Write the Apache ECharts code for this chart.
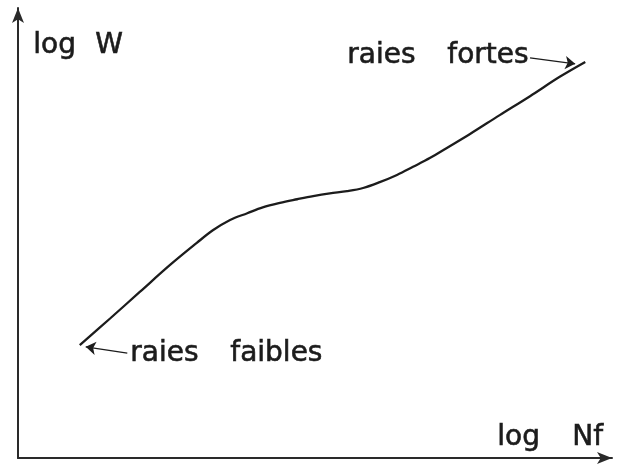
<!DOCTYPE html>
<html>
<head>
<meta charset="utf-8">
<script src="https://cdn.jsdelivr.net/npm/echarts@6/dist/echarts.min.js"></script>
<style>
  html, body { margin: 0; padding: 0; background: #fff; }
  #chart { width: 625px; height: 464px; }
</style>
</head>
<body>
<div id="chart"></div>
<script>
// courbe de croissance (unités arbitraires, 0-10 sur chaque axe)
const logNf = [1.04, 1.55, 2.05, 2.56, 3.01, 3.28, 3.57, 3.86, 4.12, 4.41, 4.70, 4.97, 5.25,
  5.54, 5.81, 6.09, 6.38, 6.65, 6.94, 7.22, 7.61, 8.11, 8.62, 9.12, 9.55];
const logW = [2.51, 3.10, 3.69, 4.29, 4.78, 5.06, 5.29, 5.44, 5.57, 5.67, 5.75, 5.82, 5.88,
  5.93, 6.00, 6.13, 6.29, 6.47, 6.67, 6.89, 7.20, 7.62, 8.04, 8.47, 8.80];

// flèches d'annotation : [queue, pointe]
const arrowFaibles = [[1.84, 2.33], [1.14, 2.47]];
const arrowFortes = [[8.62, 8.89], [9.38, 8.76]];

const curve = logNf.map((x, i) => [x, logW[i]]);

const font = '"DejaVu Sans", sans-serif';
const ink = "#1c1c1c";

function word(text, x, y) {
  return {
    type: "text",
    left: x,
    top: y,
    style: {
      text: text,
      fontSize: 28,
      fontFamily: font,
      fill: ink,
      stroke: ink,
      lineWidth: 0.6,
    },
  };
}

const axisBase = {
  type: "value",
  min: 0,
  max: 10,
  axisLine: {
    show: true,
    symbol: ["none", "arrow"],
    symbolSize: [9, 15],
    symbolOffset: [0, 0],
    lineStyle: { color: "#2a2a2a", width: 2 },
  },
  axisTick: { show: false },
  axisLabel: { show: false },
  splitLine: { show: false },
};

const chart = echarts.init(document.getElementById("chart"));
chart.setOption({
  animation: false,
  grid: { left: 18, right: 13, top: 8, bottom: 6 },
  xAxis: axisBase,
  yAxis: axisBase,
  series: [
    {
      type: "line",
      data: curve,
      smooth: 0.35,
      showSymbol: false,
      silent: true,
      lineStyle: { color: ink, width: 2.3 },
      markLine: {
        silent: true,
        symbol: ["none", "arrow"],
        symbolSize: 10,
        label: { show: false },
        lineStyle: { color: ink, width: 1.2, type: "solid" },
        data: [
          [{ coord: arrowFaibles[0] }, { coord: arrowFaibles[1] }],
          [{ coord: arrowFortes[0] }, { coord: arrowFortes[1] }],
        ],
      },
    },
  ],
  graphic: [
    word("log", 33, 31),
    word("W", 95, 31),
    word("raies", 347, 41),
    word("fortes", 447, 41),
    word("raies", 130, 339),
    word("faibles", 230, 339),
    word("log", 497, 423),
    word("Nf", 572, 423),
  ],
});
</script>
</body>
</html>
